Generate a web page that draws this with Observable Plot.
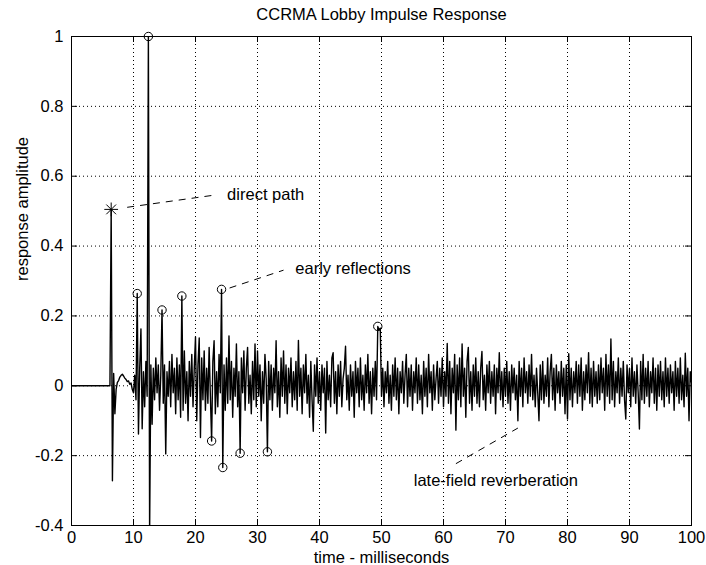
<!DOCTYPE html>
<html>
<head>
<meta charset="utf-8">
<script src="https://cdn.jsdelivr.net/npm/d3@7"></script>
<script src="https://cdn.jsdelivr.net/npm/@observablehq/plot@0.6"></script>
<style>
  body { margin: 0; background: #fff; }
  #chart svg { font-family: "Liberation Sans", Arial, Helvetica, sans-serif; }
</style>
</head>
<body>
<div id="chart"></div>
<script>
// ---- text ----
const chartTitle = "CCRMA Lobby Impulse Response";
const xLabel = "time - milliseconds";
const yLabel = "response amplitude";

// ---- tick labels ----
const xTicks = [0, 10, 20, 30, 40, 50, 60, 70, 80, 90, 100];
const yTicks = [-0.4, -0.2, 0, 0.2, 0.4, 0.6, 0.8, 1];

// ---- onset (before the reverberant tail), ms / amplitude ----
const onsetTimes  = [0, 6.2, 6.4, 6.6, 6.8, 7.0, 7.2, 7.4, 7.6, 7.8, 8.0, 8.2, 8.4, 8.6, 8.8, 9.0, 9.2, 9.4, 9.6, 9.8];
const onsetValues = [0, 0, 0.505, -0.272, 0.035, -0.08, -0.01, 0.01, 0.015, 0.025, 0.03, 0.033, 0.028, 0.022, 0.018, 0.012, 0.014, 0.004, 0.008, -0.01];

// ---- reverberant part, sampled every 0.2 ms from 10 ms to 100 ms ----
const reverbStart = 10;
const reverbStep = 0.2;
const reverbValues = [
  // 10.0 - 14.8
  -0.02, 0.03, -0.04, 0.264, -0.138, 0.05, 0.163, -0.123, 0.04, -0.06, 0.07, -0.03, 1.0, -0.42, 0.06, -0.11, 0.05, -0.04, 0.08, -0.02, 0.06, -0.07, 0.03, 0.217, -0.05,
  // 15.0 - 19.8
  0.06, -0.195, 0.04, -0.03, 0.07, -0.06, 0.09, -0.02, 0.05, -0.08, 0.08, -0.04, 0.06, -0.09, 0.257, -0.07, 0.1, -0.05, 0.04, -0.1, 0.07, -0.03, 0.09, -0.06, 0.05,
  // 20.0 - 24.8
  0.14, -0.1, 0.06, 0.137, -0.148, 0.08, -0.04, 0.1, -0.07, 0.05, -0.05, 0.11, -0.03, -0.158, 0.07, 0.129, -0.08, 0.04, -0.06, 0.09, -0.02, 0.276, -0.234, 0.06, -0.07,
  // 25.0 - 29.8
  0.08, -0.05, 0.143, -0.04, 0.07, -0.09, 0.05, -0.03, 0.12, -0.06, 0.04, -0.193, 0.08, -0.02, 0.1, -0.07, 0.05, 0.11, -0.05, 0.03, -0.08, 0.07, -0.04, 0.12, -0.06,
  // 30.0 - 34.8
  0.1, -0.03, 0.06, -0.1, 0.04, -0.05, 0.09, 0.02, -0.189, 0.07, -0.04, 0.06, -0.07, 0.05, -0.02, 0.129, -0.06, 0.04, -0.09, 0.08, -0.03, 0.1, -0.05, 0.06, -0.08,
  // 35.0 - 39.8
  0.05, -0.02, 0.08, -0.06, 0.04, -0.04, 0.07, -0.07, 0.13, -0.03, 0.05, -0.08, 0.06, -0.02, 0.09, -0.05, 0.03, -0.09, 0.07, -0.04, -0.13, 0.06, -0.03, 0.08, -0.05,
  // 40.0 - 44.8
  0.04, -0.07, 0.06, -0.02, 0.05, -0.135, 0.07, -0.04, 0.03, -0.06, 0.08, 0.095, -0.05, 0.04, -0.08, 0.06, -0.03, 0.07, -0.06, 0.02, 0.05, 0.113, -0.04, 0.03, -0.07,
  // 45.0 - 49.8
  0.06, -0.03, 0.04, -0.09, 0.07, -0.02, 0.05, -0.06, 0.08, -0.04, 0.03, -0.07, 0.06, -0.02, 0.09, -0.05, 0.04, -0.08, 0.05, -0.03, 0.07, -0.04, 0.17, 0.16, 0.165,
  // 50.0 - 54.8
  -0.03, 0.05, -0.06, 0.04, -0.02, 0.07, -0.05, 0.03, -0.07, 0.06, -0.03, 0.08, -0.04, 0.05, -0.08, 0.04, -0.02, 0.07, -0.05, 0.03, 0.09, -0.06, 0.05, -0.03, 0.06,
  // 55.0 - 59.8
  -0.07, 0.04, -0.02, 0.08, -0.05, 0.06, -0.04, 0.03, -0.08, 0.07, -0.03, 0.05, -0.06, 0.09, -0.02, 0.04, -0.07, 0.06, -0.04, 0.02, 0.07, -0.05, 0.05, -0.03, 0.08,
  // 60.0 - 64.8
  -0.06, 0.04, -0.03, 0.121, -0.05, 0.07, -0.08, 0.05, -0.02, 0.09, -0.127, 0.06, -0.04, 0.08, -0.06, 0.12, -0.03, 0.05, -0.09, 0.07, 0.11, -0.05, 0.04, -0.07, 0.06,
  // 65.0 - 69.8
  -0.03, 0.08, -0.05, 0.04, -0.06, 0.05, 0.098, -0.04, 0.03, -0.07, 0.06, -0.02, 0.07, -0.05, 0.04, -0.03, 0.06, -0.08, 0.05, -0.02, 0.095, -0.04, 0.04, -0.06, 0.05,
  // 70.0 - 74.8
  -0.03, 0.07, -0.05, 0.04, -0.07, 0.06, -0.02, 0.05, -0.04, 0.03, -0.1, 0.07, -0.03, 0.05, -0.06, 0.08, -0.02, 0.04, -0.05, 0.06, -0.03, 0.09, -0.04, 0.03, -0.06,
  // 75.0 - 79.8
  0.05, -0.02, -0.1, 0.06, -0.04, 0.07, -0.05, 0.03, -0.03, 0.08, -0.06, 0.04, 0.09, -0.04, 0.05, -0.07, 0.06, -0.02, 0.04, -0.05, 0.07, -0.03, 0.05, -0.08, 0.06,
  // 80.0 - 84.8
  -0.095, 0.092, -0.04, 0.05, -0.06, 0.04, -0.02, 0.07, -0.05, 0.06, -0.03, 0.08, -0.07, 0.04, -0.04, 0.06, -0.02, 0.095, -0.05, 0.05, -0.06, 0.07, -0.03, 0.04, -0.05,
  // 85.0 - 89.8
  0.06, -0.04, 0.08, -0.02, 0.05, -0.07, 0.09, -0.03, 0.06, -0.05, 0.134, -0.04, 0.07, -0.06, 0.04, -0.02, 0.08, -0.05, 0.05, -0.03, 0.07, -0.04, -0.095, 0.06, -0.02,
  // 90.0 - 94.8
  0.05, -0.06, 0.08, -0.03, 0.04, -0.05, 0.06, -0.02, -0.124, 0.07, -0.04, 0.09, -0.05, 0.05, -0.03, 0.07, -0.06, 0.04, -0.02, 0.08, -0.05, 0.05, -0.07, 0.06, -0.03,
  // 95.0 - 99.8
  0.07, -0.04, 0.04, -0.06, 0.08, -0.03, 0.05, -0.05, 0.06, -0.02, 0.04, -0.07, 0.07, -0.03, 0.05, -0.05, 0.08, -0.04, 0.03, -0.06, 0.093, -0.03, 0.05, -0.1, 0.04,
  // 100.0
  0.01
];

// ---- marked samples ----
const directPathTime = 6.4;
const reflectionTimes = [10.6, 12.4, 14.6, 17.8, 22.6, 24.2, 24.4, 27.2, 31.6, 49.4];

// ---- annotations (data coordinates) ----
const noteLabels = ["direct path", "early reflections", "late-field reverberation"];
const noteFromT  = [8.98, 25.5, 62.0];
const noteFromV  = [0.511, 0.28, -0.223];
const noteToT    = [23.5, 34.2, 72.0];
const noteToV    = [0.547, 0.331, -0.121];
const noteTextT  = [25.1, 36.1, 55.2];
const noteTextV  = [0.547, 0.335, -0.273];

// ---- build tables ----
const signal = onsetTimes.map((t, i) => ({t, v: onsetValues[i]}))
  .concat(reverbValues.map((v, i) => ({t: +(reverbStart + i * reverbStep).toFixed(1), v})));
const findSample = (t) => signal.reduce((best, d) => Math.abs(d.t - t) < Math.abs(best.t - t) ? d : best);
const reflections = reflectionTimes.map(findSample);
const direct = [findSample(directPathTime)];
const notes = noteLabels.map((label, i) => ({
  label, x1: noteFromT[i], y1: noteFromV[i], x2: noteToT[i], y2: noteToV[i], tx: noteTextT[i], ty: noteTextV[i]
}));

const fmtY = d => (Math.round(d * 10) / 10).toString();

const W = 706, H = 565;
const mL = 71, mR = 15, mT = 36, mB = 40;
const frameH = H - mT - mB, frameW = W - mL - mR;
const tickLen = 6;
const fs = 16.5;

const chart = Plot.plot({
  width: W, height: H,
  marginLeft: mL, marginRight: mR, marginTop: mT, marginBottom: mB,
  style: {fontFamily: '"Liberation Sans", Arial, Helvetica, sans-serif', fontSize: fs + "px", background: "white", color: "black", overflow: "visible"},
  x: {domain: [0, 100]},
  y: {domain: [-0.4, 1]},
  marks: [
    // dotted grid
    Plot.ruleX(xTicks.slice(1, -1), {stroke: "black", strokeWidth: 1, strokeDasharray: "1,3"}),
    Plot.ruleY(yTicks.slice(1, -1), {stroke: "black", strokeWidth: 1, strokeDasharray: "1,3"}),
    // inward tick marks on all four sides
    Plot.ruleX(xTicks, {stroke: "black", insetTop: frameH - tickLen}),
    Plot.ruleX(xTicks, {stroke: "black", insetBottom: frameH - tickLen}),
    Plot.ruleY(yTicks, {stroke: "black", insetRight: frameW - tickLen}),
    Plot.ruleY(yTicks, {stroke: "black", insetLeft: frameW - tickLen}),
    // impulse response
    Plot.line(signal, {x: "t", y: "v", stroke: "black", strokeWidth: 1.4, clip: true}),
    // annotations
    Plot.link(notes, {x1: "x1", y1: "y1", x2: "x2", y2: "y2", stroke: "black", strokeWidth: 1, strokeDasharray: "7,6"}),
    Plot.text(notes, {x: "tx", y: "ty", text: "label", textAnchor: "start", lineAnchor: "middle", fill: "black", fontSize: fs}),
    // markers
    Plot.dot(reflections, {x: "t", y: "v", r: 4.2, stroke: "black", fill: "white", fillOpacity: 0, strokeWidth: 1}),
    Plot.dot(direct, {x: "t", y: "v", symbol: "plus", r: 4.5, stroke: "black", strokeWidth: 1}),
    Plot.dot(direct, {x: "t", y: "v", symbol: "times", r: 4.5, stroke: "black", strokeWidth: 1}),
    // box
    Plot.frame({stroke: "black", strokeWidth: 1}),
    // tick labels
    Plot.axisX(xTicks, {tickSize: 0, tickPadding: 6, label: null, fontSize: fs}),
    Plot.axisY(yTicks, {tickSize: 0, tickPadding: 8, label: null, fontSize: fs, tickFormat: fmtY}),
    // title and axis labels
    Plot.text([chartTitle], {frameAnchor: "top", lineAnchor: "middle", dy: -22, fontSize: fs, fill: "black"}),
    Plot.text([xLabel], {frameAnchor: "bottom", lineAnchor: "middle", dy: 32, fontSize: fs, fill: "black"}),
    Plot.text([yLabel], {frameAnchor: "left", lineAnchor: "middle", dx: -49, rotate: -90, fontSize: fs, fill: "black"})
  ]
});
document.getElementById("chart").appendChild(chart);
</script>
</body>
</html>
